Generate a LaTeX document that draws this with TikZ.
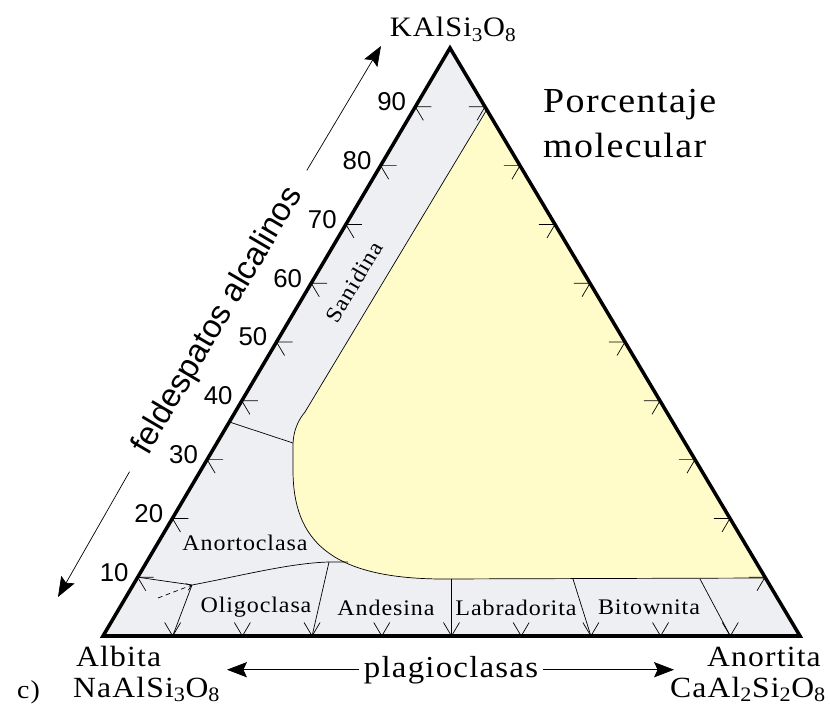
\documentclass[tikz,border=0pt]{standalone}
\usepackage{fontspec}
\setmainfont{Liberation Serif}[FakeStretch=1.08, LetterSpace=4]
\newfontfamily\pctfont{Liberation Sans}
\usepackage{tikz}
\usetikzlibrary{positioning, arrows.meta, calc}

\definecolor{fsgray}{HTML}{EEEFF2}
\definecolor{fsyellow}{HTML}{FFFCC9}

\begin{document}
\begin{tikzpicture}[x=0.03cm, y=-0.03cm,
    edge/.style={line width=3pt, line join=miter},
    bound/.style={line width=0.6pt},
    tickln/.style={line width=0.6pt},
    mineral/.style={font=\fontsize{19}{21}\selectfont, inner sep=0pt},
    corner/.style={font=\fontsize{25}{29}\selectfont, inner sep=0pt},
    pct/.style={font=\pctfont\fontsize{22}{24}\selectfont, anchor=east, inner sep=0pt},
    axislbl/.style={font=\fontsize{26}{28}\selectfont, inner sep=4pt},
    arr/.style={-{Stealth[length=17pt, width=13pt, inset=3pt]}, line width=0.6pt},
]

\fill[white] (0,0) rectangle (830,706);
\useasboundingbox (0,0) rectangle (830,706);

%% ── Triangle corners ─────────────────────────────────────────────────────
\coordinate (ab) at (103,636);
\coordinate (an) at (800,636);
\coordinate (or) at (450,48);

\fill[fsgray] (ab) -- (an) -- (or) -- cycle;

%% ── Miscibility gap (yellow field) ───────────────────────────────────────
\filldraw[fill=fsyellow, bound] (barycentric cs:an=0.105,or=0.895) -- (766,578) -- (440,579)
    .. controls (330,578) and (293,540) .. (293,470) -- (293,445)
    .. controls (293,432) and (298,420) .. (305,412) -- cycle;

%% ── Field boundaries ─────────────────────────────────────────────────────
\coordinate (j1) at (192,585);
\coordinate (j2) at (329,562);
\draw[bound] (barycentric cs:ab=0.636,or=0.364) -- (293,443);
\draw[bound] (barycentric cs:ab=0.9,or=0.1) -- (j1)
    .. controls (240,576) and (290,563) .. (j2) -- (348,562);
\draw[bound] (j1) -- (barycentric cs:ab=0.9,an=0.1);
\draw[bound] (j2) -- (barycentric cs:ab=0.7,an=0.3);
\draw[bound] (451.5,579) -- (barycentric cs:ab=0.5,an=0.5);
\draw[bound] (573,579) -- (barycentric cs:ab=0.3,an=0.7);
\draw[bound] (700,579) -- (barycentric cs:ab=0.1,an=0.9);
\draw[bound, dash pattern=on 4pt off 3pt, -{Straight Barb[length=4pt, width=6pt]}] (158,598) -- (j1);

%% ── Ticks and percent labels ─────────────────────────────────────────────
\foreach \i in {1,...,9}{
  \pgfmathsetmacro\k{\i/10}
  \pgfmathsetmacro\kr{1-\k}
  \pgfmathsetmacro\ks{1-\k-0.023}
  \pgfmathsetmacro\kt{\k-0.023}
  % left side
  \draw[tickln] (barycentric cs:ab=\ks,an=0.023,or=\k) -- (barycentric cs:ab=\kr,or=\k)
      -- (barycentric cs:ab=\kr,an=0.023,or=\kt);
  % right side
  \draw[tickln] (barycentric cs:ab=0.023,an=\ks,or=\k) -- (barycentric cs:an=\kr,or=\k)
      -- (barycentric cs:ab=0.023,an=\kr,or=\kt);
  % base
  \draw[tickln] (barycentric cs:ab=\kr,an=\kt,or=0.023) -- (barycentric cs:ab=\kr,an=\k)
      -- (barycentric cs:ab=\ks,an=\k,or=0.023);
  \node[pct] (pct\i) at ($(barycentric cs:ab=\kr,or=\k)+(-9,-5)$) {\i0};
}

%% ── Triangle edges ───────────────────────────────────────────────────────
\draw[edge] (ab) -- (an) -- (or) -- cycle;

%% ── Mineral names ────────────────────────────────────────────────────────
\node[mineral, rotate=59.5] (sani) at (354,282) {Sanidina};
\node[mineral] (anorto) at (245,543) {Anortoclasa};
\node[mineral] (oligo)  at (256,607) {Oligoclasa};
\node[mineral] (andes)  at (386,608) {Andesina};
\node[mineral] (labra)  at (516,608) {Labradorita};
\node[mineral] (bitow)  at (649,607) {Bitownita};

%% ── End members ──────────────────────────────────────────────────────────
\node[corner, font=\fontsize{24}{28}\selectfont, anchor=base] (kspar) at (453,37)
    {KAlSi\textsubscript{3}O\textsubscript{8}};
\node[corner, anchor=base west] (albita)  at (76,666) {Albita};
\node[corner, anchor=base west] (albitaf) at (73,697) {NaAlSi\textsubscript{3}O\textsubscript{8}};
\node[corner, anchor=base east] (anort)   at (821,666) {Anortita};
\node[corner, anchor=base east] (anortf)  at (826,697) {CaAl\textsubscript{2}Si\textsubscript{2}O\textsubscript{8}};
\node[corner, font=\fontsize{22}{26}\selectfont, anchor=base west] (part) at (17,698) {c)};

\node[corner, font=\fontsize{30}{36}\selectfont, anchor=base west] (pcta) at (543,113) {Porcentaje};
\node[corner, font=\fontsize{30}{36}\selectfont, anchor=base west] (pctb) at (543,158) {molecular};

%% ── Series axes ──────────────────────────────────────────────────────────
\node[axislbl, anchor=base] (plag) at (451,677) {plagioclasas};
\coordinate (plagL) at (227,671);
\coordinate (plagR) at (674,671);
\draw[arr] (plag.west) -- (plag.west -| plagL);
\draw[arr] (plag.east) -- (plag.east -| plagR);

\node[axislbl, font=\pctfont\fontsize{28}{30}\selectfont, inner sep=3pt, rotate=59.5]
    (feld) at (218,321) {feldespatos alcalinos};
\coordinate (feldlo) at (58,597);
\coordinate (feldhi) at (381,46);
\draw[arr, shorten <=16pt] (feld.west) -- (feldlo);
\draw[arr, shorten <=16pt] (feld.east) -- (feldhi);

\end{tikzpicture}
\end{document}
